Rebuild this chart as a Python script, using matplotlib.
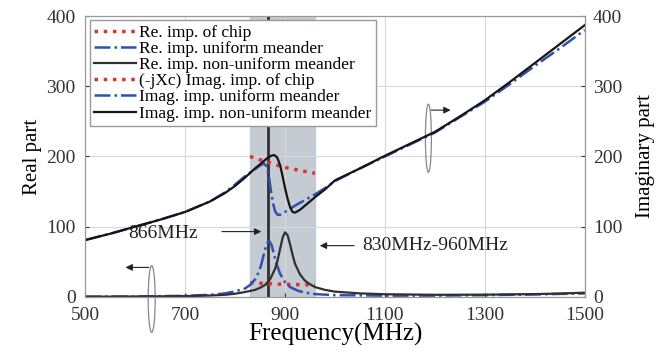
import matplotlib
matplotlib.use("Agg")
import matplotlib.pyplot as plt
from matplotlib.patches import Ellipse

plt.rcParams['font.family'] = ['Liberation Serif', 'DejaVu Serif']

# real part (lower curves)
f_re_nu = [500, 550, 600, 650, 700, 750, 780, 800, 820, 840, 850, 860, 870, 880, 885, 890, 895, 900,
           905, 910, 915, 920, 930, 940, 950, 960, 980, 1000, 1050, 1100, 1200, 1300, 1400, 1450, 1500]
re_nu = [0.3, 0.4, 0.6, 0.8, 1.2, 2, 3, 4.5, 7, 10, 13, 17, 25, 40, 52, 68, 84, 92,
         88, 75, 60, 47, 32, 23, 18, 14, 10, 7.5, 5, 3.8, 3, 3.2, 4, 4.8, 6]

f_re_u = [500, 600, 700, 750, 780, 800, 820, 830, 840, 845, 852, 858, 863, 868, 873, 878, 884, 890,
          900, 910, 925, 940, 960, 1000, 1100, 1200, 1300, 1400, 1500]
re_u = [0.3, 0.6, 1.5, 3, 5, 8, 12, 17, 25, 32, 45, 62, 75, 80, 74, 60, 45, 33,
        21, 14, 9, 6, 4, 2.5, 1.8, 1.8, 2.5, 3.5, 5]

f_chip = [830, 860, 896, 930, 960]
re_chip = [20, 19, 18, 17.5, 17]
im_chip = [200, 193, 185, 180, 176]

# imaginary part (upper curves)
f_im_nu = [500, 550, 600, 650, 700, 750, 780, 800, 820, 840, 855, 865, 872, 878, 884, 890, 895, 900,
           905, 910, 915, 920, 930, 940, 960, 980, 1000, 1050, 1100, 1150, 1200, 1250, 1300, 1350,
           1400, 1450, 1500]
im_nu = [81, 90, 100, 110, 121, 136, 148, 158, 170, 183, 192, 198, 201, 202, 199, 188, 172, 155,
         140, 128, 121, 120, 124, 130, 142, 153, 166, 183, 201, 218, 235, 257, 280, 306,
         333, 360, 387]

f_im_u = [500, 550, 600, 650, 700, 750, 780, 800, 820, 840, 850, 858, 863, 868, 872, 876, 880, 885,
          890, 900, 920, 940, 960, 980, 1000, 1050, 1100, 1150, 1200, 1250, 1300, 1350, 1400,
          1450, 1500]
im_u = [81, 90, 100, 110, 121, 136, 149, 160, 172, 182, 187, 190, 186, 170, 150, 133, 122, 117,
        117, 121, 130, 138, 146, 155, 165, 183, 200, 217, 234, 256, 278, 303, 329, 354, 380]

band = (830, 960)
f_mark = 866

fig = plt.figure(figsize=(6.66, 3.56), dpi=100)
ax = fig.add_axes([0.128, 0.166, 0.750, 0.789])

ax.axvspan(band[0], band[1], color='#c5cbd3', zorder=0)
ax.axvline(f_mark, color='#303030', lw=2, zorder=1)

ax.plot(f_chip, re_chip, ':', color='#e03030', lw=2.5, label='Re. imp. of chip')
ax.plot(f_re_u, re_u, '-.', color='#3050b0', lw=1.8, label='Re. imp. uniform meander')
ax.plot(f_re_nu, re_nu, '-', color='#303030', lw=1.6, label='Re. imp. non-uniform meander')
ax.plot(f_chip, im_chip, ':', color='#e03030', lw=2.5, label='(-jXc) Imag. imp. of chip')
ax.plot(f_im_u, im_u, '-.', color='#3050b0', lw=1.8, label='Imag. imp. uniform meander')
ax.plot(f_im_nu, im_nu, '-', color='#151515', lw=1.6, label='Imag. imp. non-uniform meander')

ax.set_xlim(500, 1500)
ax.set_ylim(0, 400)
ax.set_xticks([500, 700, 900, 1100, 1300, 1500])
ax.set_yticks([0, 100, 200, 300, 400])
ax.grid(True, color='#d8d8d8', lw=0.8)
ax.set_axisbelow(True)
ax.tick_params(direction='in', length=3, labelsize=14, colors='#333333')
ax.tick_params(axis='y', pad=7)
ax.tick_params(axis='x', pad=7.5)
for s in ax.spines.values():
    s.set_color('#999999')
ax.set_xlabel('Frequency(MHz)', fontsize=18, labelpad=-1)
ax.set_ylabel('Real part', fontsize=15, labelpad=3)

ax2 = ax.twinx()
ax2.set_ylim(0, 400)
ax2.set_yticks([0, 100, 200, 300, 400])
ax2.tick_params(direction='in', length=3, labelsize=14, colors='#333333', pad=6)
ax2.set_ylabel('Imaginary part', fontsize=15, labelpad=10)
for s in ax2.spines.values():
    s.set_color('#999999')

leg = ax.legend(loc='upper left', fontsize=12.5, labelspacing=0, handlelength=2.4,
                handletextpad=0.2, borderpad=0.25, borderaxespad=0.25, fancybox=False,
                framealpha=1, edgecolor='#999999')
leg.set_zorder(5)

# annotations
ax.annotate('', xy=(858, 93), xytext=(768, 93),
            arrowprops=dict(arrowstyle='-|>', color='#222222', lw=0.8))
ax.text(656, 91, '866MHz', fontsize=14, ha='center', va='center', color='#222222')
ax.annotate('', xy=(964, 73), xytext=(1044, 73),
            arrowprops=dict(arrowstyle='-|>', color='#222222', lw=0.8))
ax.text(1054, 73, '830MHz-960MHz', fontsize=14, ha='left', va='center', color='#222222')

# axis markers (ellipse + arrow)
ax.add_patch(Ellipse((633, -3), 14, 95, fill=False, ec='#888888', lw=0.9, clip_on=False))
ax.annotate('', xy=(575, 42), xytext=(633, 42),
            arrowprops=dict(arrowstyle='-|>', color='#222222', lw=0.8))
ax.add_patch(Ellipse((1187, 226), 12, 97, fill=False, ec='#888888', lw=0.9, clip_on=False))
ax.annotate('', xy=(1237, 266), xytext=(1187, 266),
            arrowprops=dict(arrowstyle='-|>', color='#222222', lw=0.8))

fig.savefig('out.png', dpi=100)
